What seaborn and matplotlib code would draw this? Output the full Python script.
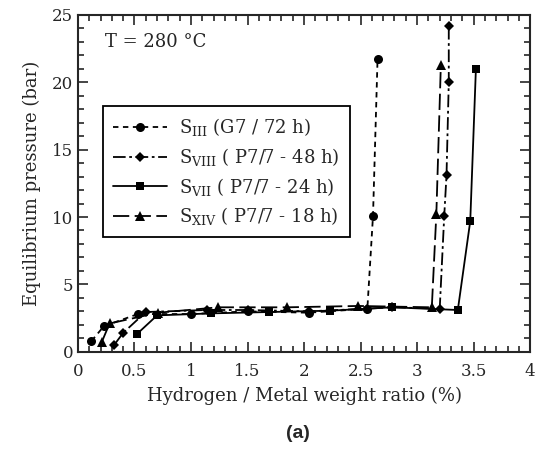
import matplotlib
matplotlib.use("Agg")
import matplotlib.pyplot as plt
import seaborn as sns
import pandas as pd
from matplotlib.ticker import MultipleLocator, FuncFormatter

sns.set_style("ticks")
plt.rcParams['font.family'] = ['DejaVu Serif']
plt.rcParams['mathtext.fontset'] = 'dejavuserif'

# Data
s3_x = [0.12, 0.23, 0.53, 1.00, 1.50, 2.04, 2.56, 2.61, 2.65]
s3_y = [0.8, 1.9, 2.8, 2.8, 3.0, 2.9, 3.2, 10.1, 21.7]

s8_x = [0.32, 0.40, 0.60, 1.14, 1.50, 2.04, 2.56, 2.78, 3.20, 3.24, 3.26, 3.28, 3.28]
s8_y = [0.5, 1.4, 2.95, 3.1, 3.1, 3.0, 3.2, 3.3, 3.2, 10.1, 13.1, 20.0, 24.2]

s7_x = [0.52, 0.70, 1.18, 1.69, 2.23, 2.78, 3.36, 3.47, 3.52]
s7_y = [1.3, 2.7, 2.85, 2.95, 3.05, 3.3, 3.1, 9.7, 21.0]

s14_x = [0.21, 0.28, 0.71, 1.24, 1.85, 2.48, 3.13, 3.17, 3.21]
s14_y = [0.7, 2.1, 2.9, 3.3, 3.3, 3.4, 3.3, 10.2, 21.3]

labels = [r"S$_{\mathrm{III}}$ (G7 / 72 h)",
          r"S$_{\mathrm{VIII}}$ ( P7/7 - 48 h)",
          r"S$_{\mathrm{VII}}$ ( P7/7 - 24 h)",
          r"S$_{\mathrm{XIV}}$ ( P7/7 - 18 h)"]

fig = plt.figure(figsize=(5.41, 4.51), dpi=100)
ax = fig.add_axes([0.144, 0.220, 0.836, 0.747])

series = [
    (s3_x, s3_y, labels[0], dict(marker='o', markersize=6.5, linestyle=(0, (3, 2.5)))),
    (s8_x, s8_y, labels[1], dict(marker='D', markersize=5.2, linestyle=(0, (7, 2, 1.5, 2)))),
    (s7_x, s7_y, labels[2], dict(marker='s', markersize=6.2, linestyle='-')),
    (s14_x, s14_y, labels[3], dict(marker='^', markersize=6.5, linestyle=(0, (9, 3)))),
]

for xs, ys, lab, st in series:
    df = pd.DataFrame({'x': xs, 'y': ys})
    sns.lineplot(data=df, x='x', y='y', ax=ax, sort=False, estimator=None,
                 color='black', linewidth=1.3, markeredgewidth=0,
                 label=lab, **st)

ax.set_xlim(0, 4)
ax.set_ylim(0, 25)
ax.xaxis.set_major_locator(MultipleLocator(0.5))
ax.xaxis.set_minor_locator(MultipleLocator(0.1))
ax.yaxis.set_major_locator(MultipleLocator(5))
ax.yaxis.set_minor_locator(MultipleLocator(1))
ax.xaxis.set_major_formatter(FuncFormatter(lambda v, p: f"{v:g}"))
ax.tick_params(which='both', direction='in', top=True, right=True, labelsize=12, width=1.2)
ax.tick_params(which='major', length=7)
ax.tick_params(which='minor', length=4)
ax.tick_params(axis='x', pad=8)
for s in ax.spines.values():
    s.set_linewidth(1.5)
    s.set_visible(True)

ax.set_xlabel("Hydrogen / Metal weight ratio (%)", fontsize=13, labelpad=5)
ax.set_ylabel("Equilibrium pressure (bar)", fontsize=13, labelpad=8)

ax.text(0.24, 23.0, "T = 280 °C", fontsize=13, ha='left', va='center')

leg = ax.legend(loc='upper left', bbox_to_anchor=(0.035, 0.755), fontsize=13,
                frameon=True, fancybox=False, edgecolor='black', framealpha=1,
                handlelength=3.0, borderpad=0.55, labelspacing=0.42, handletextpad=0.7)
leg.get_frame().set_linewidth(1.3)

fig.text(0.55, 0.038, "(a)", fontsize=14, fontweight='bold',
         family=['Liberation Sans', 'DejaVu Sans'], ha='center', va='center')

fig.savefig("out.png", dpi=100)
